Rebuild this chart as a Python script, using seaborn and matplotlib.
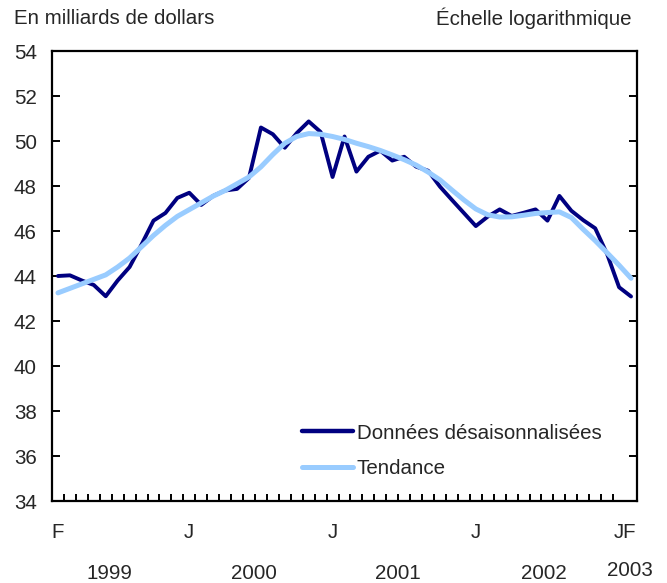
import matplotlib
matplotlib.use("Agg")
import matplotlib.pyplot as plt
from matplotlib.lines import Line2D
import seaborn as sns
import numpy as np
import pandas as pd

# Monthly series, Feb 1999 .. Feb 2003 (49 months)
donnees = [44.0, 44.03, 43.8, 43.6, 43.1, 43.8, 44.4, 45.4, 46.46, 46.8,
           47.47, 47.7, 47.16, 47.56, 47.8, 47.87, 48.36, 50.6, 50.3, 49.7,
           50.35, 50.87, 50.4, 48.4, 50.2, 48.64, 49.3, 49.57, 49.13, 49.3,
           48.86, 48.68, 47.97, 47.38, 46.8, 46.22, 46.64, 46.96, 46.67, 46.81,
           46.96, 46.46, 47.56, 46.9, 46.48, 46.12, 44.97, 43.5, 43.09]
tendance = [43.25, 43.45, 43.65, 43.85, 44.05, 44.4, 44.8, 45.3, 45.8, 46.25,
            46.65, 46.95, 47.25, 47.55, 47.8, 48.1, 48.4, 48.85, 49.4, 49.9,
            50.2, 50.33, 50.3, 50.2, 50.07, 49.9, 49.75, 49.58, 49.38, 49.17,
            48.93, 48.62, 48.27, 47.82, 47.38, 46.98, 46.72, 46.62, 46.63, 46.7,
            46.78, 46.82, 46.85, 46.6, 46.07, 45.57, 45.03, 44.48, 43.9]
month_labels = ["F", "J", "J", "J", "JF"]
month_label_pos = [0, 11, 23, 35, 47.5]
years = ["1999", "2000", "2001", "2002", "2003"]
year_pos = [4.3, 16.4, 28.5, 40.7, 47.9]
y_ticks = [34, 36, 38, 40, 42, 44, 46, 48, 50, 52, 54]
series_names = ["Données désaisonnalisées", "Tendance"]

df = pd.DataFrame({"mois": np.arange(len(donnees)),
                   "donnees": donnees, "tendance": tendance})

sns.set_style("white")
plt.rcParams["font.family"] = ["Liberation Sans", "DejaVu Sans"]
FS = 14.8

fig = plt.figure(figsize=(6.67, 5.83), dpi=100)
ax = fig.add_axes([52 / 667, 82 / 583, 585 / 667, 450 / 583])

dark = "#000080"
light = "#99CCFF"
sns.lineplot(data=df, x="mois", y="donnees", ax=ax, color=dark, lw=2.8, zorder=3)
sns.lineplot(data=df, x="mois", y="tendance", ax=ax, color=light, lw=3.6, zorder=4)

ax.set_xlim(-0.5, 48.5)
ax.set_ylim(34, 54)
ax.set_yticks(y_ticks)
ax.set_yticklabels([str(t) for t in y_ticks], fontsize=FS)
ax.set_xticks(month_label_pos)
ax.set_xticklabels(month_labels, fontsize=FS)
ax.set_xticks(np.arange(0.5, 48, 1), minor=True)
ax.set_xlabel("")
ax.set_ylabel("")

for s in ax.spines.values():
    s.set_visible(True)
    s.set_color("black")
    s.set_linewidth(1.6)

ax.tick_params(axis="y", which="major", direction="in", length=5.5, width=1.4,
               left=True, right=True, labelleft=True, labelright=False, pad=11,
               color="black")
ax.tick_params(axis="x", which="major", length=0, pad=16, color="black")
ax.tick_params(axis="x", which="minor", direction="in", length=5, width=1.4,
               bottom=True, top=False, color="black")

trans = ax.get_xaxis_transform()
for i, (lab, p) in enumerate(zip(years, year_pos)):
    yy = -0.155 if i == len(years) - 1 else -0.162
    ax.text(p, yy, lab, transform=trans, ha="center", va="center", fontsize=FS)

fig.text(14 / 667, 1 - 18 / 583, "En milliards de dollars", ha="left", va="center",
         fontsize=FS)
fig.text(631 / 667, 1 - 18 / 583, "Échelle logarithmique", ha="right", va="center",
         fontsize=FS)

handles = [Line2D([], [], color=dark, lw=3.2), Line2D([], [], color=light, lw=3.6)]
ax.legend(handles, series_names, loc="upper left", bbox_to_anchor=(0.428, 0.172),
          frameon=False, fontsize=FS, handlelength=2.45, handletextpad=0.2,
          labelspacing=0.8, borderpad=0, borderaxespad=0)

fig.savefig("out.png", dpi=100)
